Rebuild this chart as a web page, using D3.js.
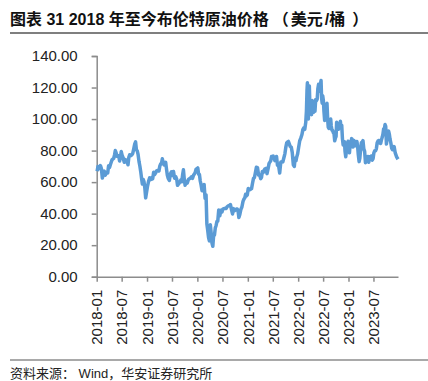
<!DOCTYPE html>
<html>
<head>
<meta charset="utf-8">
<script src="https://cdn.jsdelivr.net/npm/d3@7"></script>
<style>
  body { margin: 0; background: #fff; }
  svg { display: block; }
</style>
</head>
<body>
<div id="chart"></div>
<script>
// weekly Brent closes, one inner array per month (USD/bbl)
const brent2018 = [
  [66.9, 69.9, 69.3, 68.6, 70.5],
  [68.6, 62.6, 64.8, 67.0],
  [64.4, 65.5, 66.2, 65.9, 70.3],
  [69.3, 71.0, 72.6, 74.1, 74.6],
  [75.0, 77.1, 80.0, 78.5, 76.4],
  [76.8, 76.5, 73.4, 75.6, 79.4],
  [77.1, 75.3, 72.6, 74.3],
  [73.2, 72.8, 71.0, 75.8, 77.4],
  [76.8, 77.2, 78.1, 81.2],
  [84.2, 85.5, 80.4, 79.8, 77.6],
  [73.0, 70.2, 66.8, 62.6, 58.8],
  [61.7, 60.3, 56.3, 50.0, 53.2]
];
const brent2019 = [
  [57.1, 60.5, 62.7, 61.6],
  [62.8, 62.1, 66.3, 64.8],
  [65.7, 67.2, 67.5, 67.0],
  [70.3, 71.5, 71.9, 74.8, 72.2],
  [70.9, 72.2, 72.6, 68.4, 64.5],
  [62.3, 61.0, 65.2, 66.6],
  [64.2, 66.7, 62.5, 63.5],
  [61.9, 58.0, 58.6, 59.3, 60.4],
  [61.5, 60.2, 64.6, 67.8, 61.9],
  [58.0, 60.5, 59.4, 61.7],
  [62.1, 62.5, 63.3, 62.4],
  [64.4, 65.2, 66.0, 68.1, 68.4]
];
const brent2020 = [
  [69.0, 65.0, 64.9, 60.7, 58.2],
  [54.5, 57.3, 58.5, 49.7],
  [51.9, 33.4, 29.4, 25.0, 22.7],
  [33.0, 27.8, 21.4, 19.3, 26.4],
  [26.4, 31.0, 32.5, 35.1, 35.3],
  [42.3, 38.7, 42.2, 41.0],
  [42.8, 43.2, 43.3, 43.4, 43.3],
  [44.4, 45.0, 45.0, 45.8],
  [42.7, 39.8, 43.2, 41.9],
  [42.3, 42.9, 42.9, 41.8, 37.5],
  [39.5, 42.8, 44.2, 47.8],
  [49.3, 50.0, 52.3, 51.3, 51.8]
];
const brent2021 = [
  [56.0, 55.1, 55.4, 55.9],
  [59.3, 62.4, 62.9, 66.1],
  [69.4, 69.2, 64.5, 64.6],
  [62.2, 62.9, 66.8, 66.1, 67.3],
  [68.3, 68.7, 65.4, 68.5],
  [71.9, 72.7, 73.5, 76.2, 75.6],
  [76.5, 75.6, 73.6, 74.1, 76.3],
  [70.7, 70.6, 65.8, 72.7],
  [72.6, 72.9, 75.3, 78.1],
  [82.4, 84.9, 85.5, 85.8, 84.4],
  [82.7, 82.2, 78.9, 71.0],
  [69.9, 75.2, 73.5, 76.1, 77.8]
];
const brent2022 = [
  [81.8, 86.1, 87.9, 90.0],
  [93.3, 94.4, 93.5, 97.9],
  [105.0, 118.0, 123.0, 111.0, 100.0, 108.0, 121.0, 112.0, 107.9],
  [104.4, 102.8, 111.7, 106.7, 104.3, 109.3],
  [105.0, 112.4, 111.6, 112.6, 119.4, 122.0],
  [117.6, 119.7, 122.0, 124.5, 113.1, 110.1, 114.8],
  [111.6, 104.8, 99.1, 101.2, 106.9, 103.2, 110.0],
  [100.0, 94.9, 94.1, 98.2, 96.7, 100.0, 95.6],
  [93.0, 92.8, 91.4, 90.8, 86.2, 88.0],
  [88.9, 97.9, 97.0, 93.5, 93.5, 95.8, 94.8],
  [98.6, 94.7, 96.0, 87.6, 83.6, 85.4],
  [85.6, 79.4, 76.1, 79.0, 81.0, 83.9, 85.9]
];
const brent2023 = [
  [82.1, 78.6, 84.3, 84.9, 87.6, 86.7],
  [82.2, 86.4, 85.5, 83.0, 83.2],
  [85.8, 82.8, 77.5, 73.0, 75.0, 79.8],
  [84.9, 85.4, 86.3, 81.1, 79.5],
  [72.3, 75.3, 74.2, 76.3, 72.6],
  [76.1, 74.8, 76.6, 73.9, 74.9],
  [78.5, 79.9, 79.9, 81.1, 84.9],
  [86.2, 86.4, 84.8, 84.5, 86.8],
  [88.6, 90.6, 93.9, 93.3, 96.5, 95.3],
  [84.1, 87.7, 90.9, 92.4, 90.5, 87.4],
  [84.9, 81.6, 80.6, 80.6, 82.5],
  [78.5, 76.0, 74.5]
];
const years = [2018, 2019, 2020, 2021, 2022, 2023];
const yearData = [brent2018, brent2019, brent2020, brent2021, brent2022, brent2023];

const yTicks = [0, 20, 40, 60, 80, 100, 120, 140];
const xTickLabels = ["2018-01", "2018-07", "2019-01", "2019-07", "2020-01", "2020-07",
  "2021-01", "2021-07", "2022-01", "2022-07", "2023-01", "2023-07"];

// title pieces with the gap each one gets before it
const titleParts = ["图表 31 2018 年至今布伦特原油价格", "（", "美元", "/桶", "）"];
const titleGaps = [0, 4, 2, 2, 7];
const source = "资料来源： Wind，华安证券研究所";

const width = 428;
const height = 381;

// spread each month's weekly points across the month
const data = [];
yearData.forEach((months, yi) => {
  months.forEach((vals, m) => {
    const days = new Date(years[yi], m + 1, 0).getDate();
    vals.forEach((v, i) => {
      const day = 1 + Math.floor((i + 0.5) * days / vals.length);
      data.push({ date: new Date(years[yi], m, day), value: v });
    });
  });
});

const svg = d3
  .select("#chart")
  .append("svg")
  .attr("width", width)
  .attr("height", height);

// title and rules
svg
  .append("text")
  .attr("x", 10)
  .attr("y", 25)
  .style("font-family", "'Liberation Sans', 'Noto Sans CJK SC', sans-serif")
  .style("font-size", "16px")
  .style("font-weight", "bold")
  .style("fill", "#111")
  .selectAll("tspan")
  .data(titleParts)
  .enter()
  .append("tspan")
  .attr("dx", (d, i) => titleGaps[i])
  .text((d) => d);

svg
  .append("line")
  .attr("x1", 10)
  .attr("x2", width)
  .attr("y1", 33)
  .attr("y2", 33)
  .style("stroke", "#555")
  .style("stroke-width", "1.5px");

svg
  .append("line")
  .attr("x1", 10)
  .attr("x2", width)
  .attr("y1", 360)
  .attr("y2", 360)
  .style("stroke", "#555")
  .style("stroke-width", "1.2px");

svg
  .append("text")
  .attr("x", 10)
  .attr("y", 378)
  .style("font-family", "'Liberation Sans', 'Noto Sans CJK SC', sans-serif")
  .style("font-size", "13px")
  .style("fill", "#222")
  .text(source);

// scales
const xScale = d3
  .scaleTime()
  .domain([new Date(2018, 0, 1), data[data.length - 1].date])
  .range([96.7, 398]);

const yScale = d3.scaleLinear().domain([0, 140]).range([276.7, 56]);

const parseMonth = d3.timeParse("%Y-%m");

// y axis
const yAxis = svg
  .append("g")
  .attr("transform", "translate(96.7,0)")
  .call(d3.axisLeft(yScale).tickValues(yTicks).tickFormat(d3.format(".2f")).tickSize(5).tickPadding(14));

yAxis.selectAll("path, line").style("stroke", "#8c8c8c").style("stroke-width", "1.5px");
yAxis
  .selectAll("text")
  .style("font-family", "'Liberation Sans', Arial, sans-serif")
  .style("font-size", "15px")
  .style("fill", "#222");

// x axis
const xAxis = svg
  .append("g")
  .attr("transform", "translate(0,276.7)")
  .call(
    d3
      .axisBottom(xScale)
      .tickValues(xTickLabels.map((s) => parseMonth(s)))
      .tickFormat(d3.timeFormat("%Y-%m"))
      .tickSize(5)
      .tickSizeOuter(0)
  );

xAxis.selectAll("path, line").style("stroke", "#8c8c8c").style("stroke-width", "1.5px");
xAxis
  .selectAll("text")
  .attr("transform", "rotate(-90)")
  .attr("x", -13)
  .attr("y", 0)
  .attr("dy", "0.35em")
  .style("text-anchor", "end")
  .style("font-family", "'Liberation Sans', Arial, sans-serif")
  .style("font-size", "15px")
  .style("fill", "#222");

// price line
const line = d3
  .line()
  .x((d) => xScale(d.date))
  .y((d) => yScale(d.value));

svg
  .append("path")
  .datum(data)
  .attr("d", line)
  .style("fill", "none")
  .style("stroke", "#5b9bd5")
  .style("stroke-width", "3.5px")
  .style("stroke-linejoin", "round");
</script>
</body>
</html>
